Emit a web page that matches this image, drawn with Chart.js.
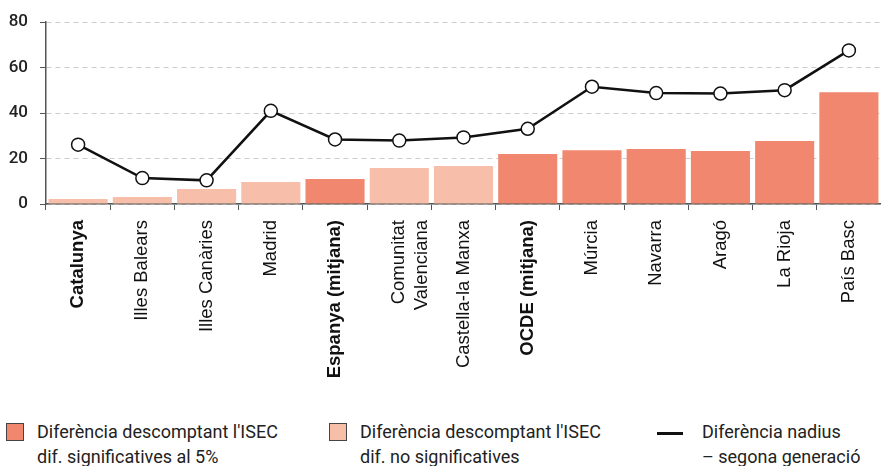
<!DOCTYPE html>
<html>
<head>
<meta charset="utf-8">
<script src="https://cdn.jsdelivr.net/npm/chart.js@4/dist/chart.umd.min.js"></script>
<style>
    body { margin: 0; background: #fff; }
    .wrap { position: relative; width: 881px; height: 466px; overflow: hidden; }
    .legend-item { position: absolute; top: 419px; font-family: Roboto, sans-serif; font-size: 18px; line-height: 25px; color: #222; }
    .swatch { position: absolute; top: 4px; left: -31px; width: 16px; height: 16px; border: 1.5px solid #444; }
    .dash { position: absolute; top: 13px; left: -45px; width: 26px; height: 2.5px; background: #111; }
</style>
</head>
<body>
<div class="wrap">
    <canvas id="chart" width="881" height="410"></canvas>
    <div class="legend-item" style="left:37px"><span class="swatch" style="background:#f0876e"></span>Diferència descomptant l'ISEC<br>dif. significatives al 5%</div>
    <div class="legend-item" style="left:360px"><span class="swatch" style="background:#f7bfa9"></span>Diferència descomptant l'ISEC<br>dif. no significatives</div>
    <div class="legend-item" style="left:702px"><span class="dash"></span>Diferència nadius<br>– segona generació</div>
</div>
<script>
// Data
const regions = ['Catalunya', 'Illes Balears', 'Illes Canàries', 'Madrid', 'Espanya (mitjana)',
    ['Comunitat', 'Valenciana'], 'Castella-la Manxa', 'OCDE (mitjana)', 'Múrcia', 'Navarra',
    'Aragó', 'La Rioja', 'País Basc'];
const isecDiff = [2.2, 3.1, 6.6, 9.7, 11.0, 15.8, 16.7, 22.0, 23.7, 24.2, 23.3, 27.7, 49.2];
const significant = [false, false, false, false, true, false, false, true, true, true, true, true, true];
const nativeDiff = [26.1, 11.4, 10.4, 41.0, 28.4, 27.9, 29.3, 33.1, 51.6, 48.8, 48.6, 50.1, 67.6];
const boldLabels = [true, false, false, false, true, false, false, true, false, false, false, false, false];
const yTicks = [0, 20, 40, 60, 80];

const darkColor = '#f0876e';
const lightColor = '#f7bfa9';

new Chart(document.getElementById('chart'), {
    type: 'bar',
    data: {
        labels: regions,
        datasets: [{
            type: 'line',
            label: 'Diferència nadius – segona generació',
            data: nativeDiff,
            borderColor: '#111',
            borderWidth: 2.5,
            pointRadius: 6.5,
            pointBackgroundColor: '#fff',
            pointBorderColor: '#111',
            pointBorderWidth: 1.5,
            tension: 0,
            order: 0
        }, {
            label: "Diferència descomptant l'ISEC",
            data: isecDiff,
            backgroundColor: significant.map(s => s ? darkColor : lightColor),
            barPercentage: 0.92,
            categoryPercentage: 1,
            order: 1
        }]
    },
    options: {
        responsive: false,
        animation: false,
        layout: { autoPadding: false, padding: { top: 22, right: 0, left: 0, bottom: 0 } },
        plugins: {
            legend: { display: false },
            tooltip: { enabled: false }
        },
        scales: {
            x: {
                // fixed axis height, and no extra room for the rotated end labels
                afterFit: s => { s.height = 206; s.paddingLeft = 0; s.paddingRight = 0; },
                grid: { drawOnChartArea: false, drawTicks: true, tickLength: 6, tickColor: '#555', offset: true },
                border: { color: '#555', width: 1.5 },
                ticks: {
                    autoSkip: false,
                    maxRotation: 90,
                    minRotation: 90,
                    padding: 10,
                    color: '#111',
                    font: ctx => ({
                        family: "'Liberation Sans Narrow', 'Liberation Sans', Arial, sans-serif",
                        size: 18.5,
                        weight: boldLabels[ctx.index] ? 'bold' : 'normal'
                    })
                }
            },
            y: {
                min: 0,
                max: 80,
                afterFit: s => { s.width = 46; },
                afterBuildTicks: s => { s.ticks = yTicks.map(v => ({ value: v })); },
                grid: { color: '#ccc', lineWidth: 1, tickLength: 6, tickColor: '#555', tickBorderDash: [] },
                border: { color: '#555', width: 1.5, dash: [5, 4] },
                ticks: {
                    padding: 12,
                    color: '#222',
                    font: { family: 'Roboto, sans-serif', size: 17, weight: 500 }
                }
            }
        }
    }
});
</script>
</body>
</html>
